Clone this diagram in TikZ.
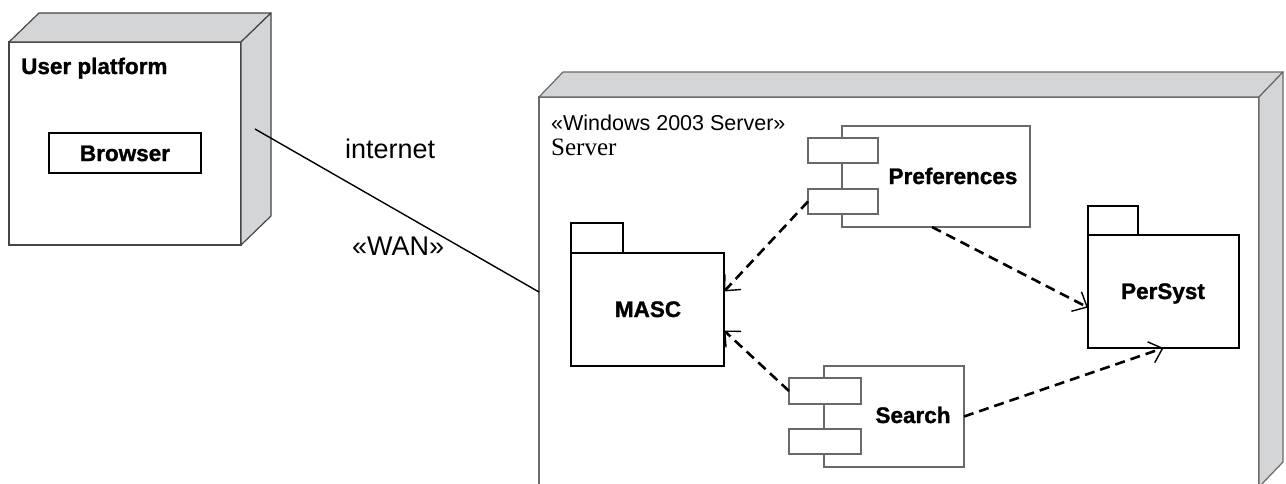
\documentclass[tikz,border=0pt]{standalone}
\usepackage{fontspec}
\setmainfont{Liberation Sans}
\newfontfamily\seriffont{Liberation Serif}
\newfontfamily\heavyfont[FakeBold=1.2]{Liberation Sans Bold}
\usetikzlibrary{arrows.meta}
\definecolor{sidegrey}{RGB}{212,213,215}
\definecolor{edgegrey}{RGB}{70,70,70}
\definecolor{compgrey}{RGB}{105,105,105}
\begin{document}
\begin{tikzpicture}[x=1pt,y=-1pt,
  face/.style={draw=edgegrey,line width=1.2pt,fill=white,inner sep=0pt,outer sep=0pt},
  side/.style={draw=edgegrey,line width=1.2pt,fill=sidegrey,line join=round},
  comp/.style={draw=compgrey,line width=1.1pt,fill=white,inner sep=0pt,outer sep=0pt},
  pkg/.style={draw=black,line width=1.8pt,fill=white,inner sep=0pt,outer sep=0pt},
  boldlbl/.style={font=\fontsize{22.5}{26}\heavyfont,inner sep=0pt,anchor=base},
  plainlbl/.style={font=\fontsize{27}{31}\selectfont,inner sep=0pt,anchor=base west},
  stereo/.style={font=\fontsize{21.5}{25}\selectfont,inner sep=0pt,anchor=base west},
  wanline/.style={draw=black,line width=1.4pt},
  dep/.style={draw=black,line width=2.6pt,dash pattern=on 10pt off 6pt,
    -{Straight Barb[length=12pt,width=22pt,line width=1.4pt]}}
]
\useasboundingbox (0,0) rectangle (1286,483);

% User platform node
\node[face,minimum width=232pt,minimum height=203pt] (up) at (125,143.5) {};
\draw[side] (up.north west) -- ++(30,-29) -- ++(232,0) -- (up.north east) -- cycle;
\draw[side] (up.north east) -- ++(30,-29) -- ++(0,203) -- (up.south east) -- cycle;
\node[boldlbl,anchor=base west] (uplbl) at (21,74) {User platform};
\node[draw=black,line width=1.5pt,fill=white,inner sep=0pt,outer sep=0pt,
      minimum width=152pt,minimum height=40pt] (browser) at (125,153) {};
\node[boldlbl] (browserlbl) at (125,161) {Browser};

% Server node
\node[face,draw=compgrey,minimum width=720pt,minimum height=390pt] (srv) at (899,292) {};
\draw[side,draw=compgrey] (srv.north west) -- ++(24,-25) -- ++(720,0) -- (srv.north east) -- cycle;
\draw[side,draw=compgrey] (srv.north east) -- ++(24,-25) -- ++(0,390) -- (srv.south east) -- cycle;
\node[stereo] (srvst) at (551,130) {«Windows 2003 Server»};
\node[anchor=base west,inner sep=0pt,font=\fontsize{25}{29}\selectfont\seriffont] (srvname) at (551,155) {Server};

% connection
\coordinate (wanA) at (255,129);
\coordinate (wanB) at (539,292);
\draw[wanline] (wanA) -- (wanB);
\node[plainlbl] (inet) at (345,158) {internet};
\node[plainlbl] (wan) at (352,255) {«WAN»};

% Preferences component
\node[comp,minimum width=188pt,minimum height=101pt] (prefs) at (936,176.5) {};
\node[comp,minimum width=70pt,minimum height=25pt] (prefp1) at (843,150.5) {};
\node[comp,minimum width=70pt,minimum height=25pt] (prefp2) at (843,201.5) {};
\node[boldlbl] (prefslbl) at (953,184) {Preferences};

% Search component
\node[comp,minimum width=140pt,minimum height=101pt] (search) at (894,416.5) {};
\node[comp,minimum width=72pt,minimum height=26pt] (searchp1) at (825,391) {};
\node[comp,minimum width=72pt,minimum height=25pt] (searchp2) at (825,441.5) {};
\node[boldlbl] (searchlbl) at (913,423) {Search};

% MASC package
\node[pkg,minimum width=52pt,minimum height=30pt] (masctab) at (597,238) {};
\node[pkg,minimum width=153pt,minimum height=113pt] (masc) at (647.5,309.5) {};
\node[boldlbl] (masclbl) at (648,317) {MASC};

% PerSyst package
\node[pkg,minimum width=50pt,minimum height=29pt] (persysttab) at (1113,220.5) {};
\node[pkg,minimum width=151pt,minimum height=113pt] (persyst) at (1163.5,291.5) {};
\node[boldlbl] (persystlbl) at (1163,299) {PerSyst};

% dependencies
\draw[dep] (prefp2.west) -- ([yshift=18pt]masc.east);
\draw[dep] (searchp1.west) -- ([yshift=-21pt]masc.east);
\draw[dep] ([xshift=-4pt]prefs.south) -- ([yshift=-16pt]persyst.west);
\draw[dep] (search.east) -- (persyst.south);
\end{tikzpicture}
\end{document}
